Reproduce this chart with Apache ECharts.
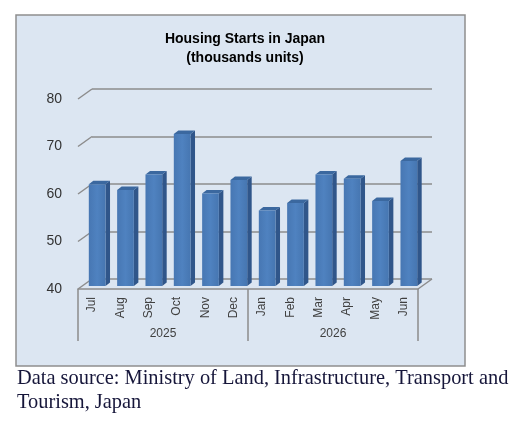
<!DOCTYPE html>
<html>
<head>
<meta charset="utf-8">
<script src="https://cdn.jsdelivr.net/npm/echarts@6/dist/echarts.min.js"></script>
<style>
  html, body { margin: 0; padding: 0; background: #ffffff; }
  #chart { width: 517px; height: 421px; }
</style>
</head>
<body>
<div id="chart"></div>
<script>
  // data
  var months = ['Jul', 'Aug', 'Sep', 'Oct', 'Nov', 'Dec', 'Jan', 'Feb', 'Mar', 'Apr', 'May', 'Jun'];
  var years = ['2025', '2026'];
  var starts = [61.4, 60.2, 63.5, 72.0, 59.5, 62.3, 55.9, 57.5, 63.5, 62.6, 57.9, 66.3];
  var wallTicks = [40, 50, 60, 70, 80];

  var AXIS_MIN = 40, AXIS_MAX = 80, STEP = 10;
  var DEPTH_X = 14, DEPTH_Y = -10;   // oblique offset front -> back wall
  var GRID_COLOR = '#8c8c8c';
  var sans = "'Liberation Sans', Arial, sans-serif";

  var chart = echarts.init(document.getElementById('chart'), null, { renderer: 'canvas' });

  // bar as a small oblique box: front face, right side, top
  function renderBar(params, api) {
    var i = api.value(0), v = api.value(1);
    var base = api.coord([i, AXIS_MIN]);
    var top = api.coord([i, v]);
    var w = api.size([1, 0])[0] * 0.59;
    var ox = 5, oy = -3;          // bar sits a bit behind the floor edge
    var bx = 4.5, by = -3.5;      // bar depth
    var x1 = base[0] - w / 2 + ox, x2 = x1 + w;
    var yb = base[1] + oy, yt = top[1] + oy;
    return {
      type: 'group',
      children: [
        {
          type: 'polygon',
          shape: { points: [[x2, yb], [x2 + bx, yb + by], [x2 + bx, yt + by], [x2, yt]] },
          style: { fill: '#30568a' }
        },
        {
          type: 'polygon',
          shape: { points: [[x1, yt], [x2, yt], [x2 + bx, yt + by], [x1 + bx, yt + by]] },
          style: { fill: '#3b689f' }
        },
        {
          type: 'rect',
          shape: { x: x1, y: yt, width: w, height: yb - yt },
          style: {
            fill: new echarts.graphic.LinearGradient(0, 0, 1, 0, [
              { offset: 0, color: '#4777b3' },
              { offset: 0.5, color: '#4f82c0' },
              { offset: 1, color: '#4676b1' }
            ])
          }
        }
      ]
    };
  }

  // slanted lines joining the value labels to the back wall
  function renderWallEdge(params, api) {
    var p = api.coord([0, api.value(0)]);
    var x0 = params.coordSys.x;
    return {
      type: 'line',
      shape: { x1: x0, y1: p[1], x2: x0 + DEPTH_X, y2: p[1] + DEPTH_Y },
      style: { stroke: GRID_COLOR, lineWidth: 1.5 }
    };
  }

  // right-hand edge of the floor
  function renderFloorEdge(params, api) {
    var p = api.coord([0, api.value(0)]);
    var x0 = params.coordSys.x + params.coordSys.width;
    return {
      type: 'line',
      shape: { x1: x0, y1: p[1], x2: x0 + DEPTH_X, y2: p[1] + DEPTH_Y },
      style: { stroke: GRID_COLOR, lineWidth: 1.5 }
    };
  }

  var option = {
    backgroundColor: '#ffffff',
    animation: false,
    graphic: [
      {
        type: 'rect', z: -10,
        shape: { x: 16, y: 15, width: 449, height: 351 },
        style: { fill: '#dce6f2', stroke: '#8e8e8e', lineWidth: 1.5 }
      },
      {
        type: 'text', left: 17, top: 367,
        style: {
          text: 'Data source: Ministry of Land, Infrastructure, Transport and\nTourism, Japan',
          font: "20.4px 'Liberation Serif', 'Times New Roman', serif",
          lineHeight: 24,
          fill: '#16163a'
        }
      }
    ],
    title: {
      text: 'Housing Starts in Japan\n(thousands units)',
      left: 240, top: 25, textAlign: 'center',
      textStyle: { fontFamily: sans, fontSize: 14, fontWeight: 'bold', color: '#000000', lineHeight: 19 }
    },
    grid: [
      { left: 78, right: 99, top: 99, bottom: 132 },   // front plane
      { left: 92, right: 85, top: 89, bottom: 142 }    // back wall
    ],
    xAxis: [
      {
        type: 'category', gridIndex: 0, data: months,
        axisLine: { lineStyle: { color: GRID_COLOR, width: 1.5 } },
        axisTick: { show: false },
        axisLabel: { rotate: 90, margin: 8, fontFamily: sans, fontSize: 12, color: '#404040' }
      },
      {
        type: 'category', gridIndex: 0, data: years, position: 'bottom',
        axisLine: { show: false },
        axisTick: { show: true, length: 52, lineStyle: { color: GRID_COLOR, width: 1.5 } },
        axisLabel: { margin: 39, fontFamily: sans, fontSize: 12, color: '#404040' }
      },
      { type: 'category', gridIndex: 1, data: months, show: false }
    ],
    yAxis: [
      {
        type: 'value', gridIndex: 0, min: AXIS_MIN, max: AXIS_MAX, interval: STEP,
        axisLine: { show: false }, axisTick: { show: false }, splitLine: { show: false },
        axisLabel: { margin: 16, fontFamily: sans, fontSize: 14, color: '#333333' }
      },
      {
        type: 'value', gridIndex: 1, min: AXIS_MIN, max: AXIS_MAX, interval: STEP,
        axisLine: { show: false }, axisTick: { show: false }, axisLabel: { show: false },
        splitLine: { lineStyle: { color: GRID_COLOR, width: 1.5 } }
      }
    ],
    series: [
      {
        type: 'custom', xAxisIndex: 0, yAxisIndex: 0,
        data: wallTicks.map(function (t) { return [t]; }),
        encode: { y: 0 },
        renderItem: renderWallEdge, silent: true
      },
      {
        type: 'custom', xAxisIndex: 0, yAxisIndex: 0,
        data: [[AXIS_MIN]],
        encode: { y: 0 },
        renderItem: renderFloorEdge, silent: true
      },
      {
        type: 'custom', xAxisIndex: 0, yAxisIndex: 0,
        data: starts.map(function (v, i) { return [i, v]; }),
        encode: { x: 0, y: 1 },
        renderItem: renderBar
      }
    ]
  };

  chart.setOption(option);
</script>
</body>
</html>
